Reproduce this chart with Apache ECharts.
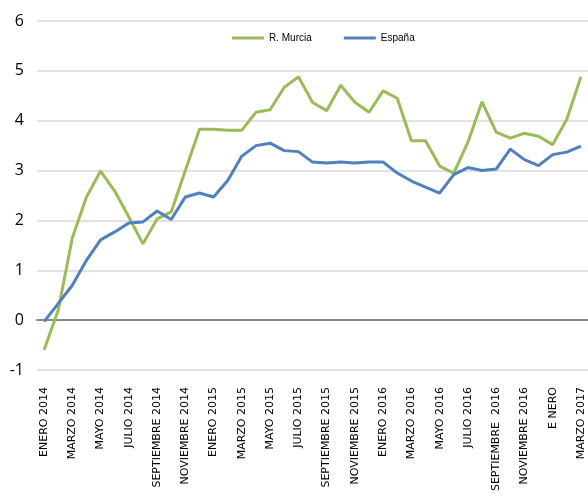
<!DOCTYPE html>
<html>
<head>
<meta charset="utf-8">
<script src="https://cdn.jsdelivr.net/npm/echarts@6/dist/echarts.min.js"></script>
<style>
  html, body { margin: 0; padding: 0; background: #fff; }
  #chart { width: 588px; height: 496px; }
</style>
</head>
<body>
<div id="chart"></div>
<script>
  // meses: etiquetas de categoria (solo se ven una de cada dos)
  var months = [
    'ENERO 2014', 'FEBRERO 2014', 'MARZO 2014', 'ABRIL 2014', 'MAYO 2014', 'JUNIO 2014',
    'JULIO 2014', 'AGOSTO 2014', 'SEPTIEMBRE 2014', 'OCTUBRE 2014', 'NOVIEMBRE 2014', 'DICIEMBRE 2014',
    'ENERO 2015', 'FEBRERO 2015', 'MARZO 2015', 'ABRIL 2015', 'MAYO 2015', 'JUNIO 2015',
    'JULIO 2015', 'AGOSTO 2015', 'SEPTIEMBRE 2015', 'OCTUBRE 2015', 'NOVIEMBRE 2015', 'DICIEMBRE 2015',
    'ENERO 2016', 'FEBRERO 2016', 'MARZO 2016', 'ABRIL 2016', 'MAYO 2016', 'JUNIO 2016',
    'JULIO 2016', 'AGOSTO 2016', 'SEPTIEMBRE  2016', 'OCTUBRE 2016', 'NOVIEMBRE 2016', 'DICIEMBRE 2016',
    'E NERO', 'FEBRERO 2017', 'MARZO 2017'
  ];

  var murcia = [
    -0.6, 0.2, 1.65, 2.47, 2.99, 2.59, 2.07, 1.53, 2.03, 2.17,
    3.0, 3.83, 3.83, 3.81, 3.81, 4.17, 4.22, 4.67, 4.88, 4.37,
    4.2, 4.71, 4.37, 4.17, 4.6, 4.45, 3.6, 3.6, 3.09, 2.95,
    3.57, 4.38, 3.77, 3.65, 3.75, 3.69, 3.52, 4.03, 4.88
  ];

  var espana = [
    -0.03, 0.33, 0.7, 1.2, 1.61, 1.77, 1.95, 1.97, 2.19, 2.02,
    2.47, 2.55, 2.47, 2.8, 3.29, 3.5, 3.55, 3.4, 3.38, 3.17,
    3.15, 3.17, 3.15, 3.17, 3.17, 2.95, 2.79, 2.67, 2.55, 2.92,
    3.06, 3.0, 3.03, 3.43, 3.22, 3.1, 3.32, 3.37, 3.49
  ];

  var chart = echarts.init(document.getElementById('chart'));
  chart.setOption({
    animation: false,
    backgroundColor: '#fff',
    grid: { left: 37, right: -4, top: 21, bottom: 126 },
    legend: {
      top: 28,
      left: 227,
      icon: 'rect',
      itemWidth: 32,
      itemHeight: 3,
      itemGap: 32,
      textStyle: { fontFamily: 'Liberation Sans', fontSize: 10, color: '#000' },
      data: ['R. Murcia', 'España']
    },
    xAxis: [
      {
        type: 'category',
        data: months,
        boundaryGap: true,
        axisLine: { show: false, onZero: false },
        axisTick: { show: false },
        axisLabel: {
          interval: 1,
          rotate: 90,
          margin: 17,
          fontFamily: 'DejaVu Sans',
          fontSize: 11,
          color: '#000'
        }
      },
      {
        type: 'category',
        data: months,
        position: 'bottom',
        boundaryGap: true,
        axisLine: { onZero: true, lineStyle: { color: '#888', width: 2 } },
        axisTick: { interval: 2, length: 5, lineStyle: { color: '#888', width: 1 } },
        axisLabel: { show: false }
      }
    ],
    yAxis: {
      type: 'value',
      min: -1,
      max: 6,
      interval: 1,
      axisLine: { show: false },
      axisTick: { show: false },
      axisLabel: { margin: 13, fontFamily: 'Open Sans', fontSize: 16, color: '#000' },
      splitLine: { lineStyle: { color: '#d9d9d9', width: 1.5 } }
    },
    series: [
      {
        name: 'R. Murcia',
        type: 'line',
        data: murcia,
        symbol: 'none',
        color: '#9BBB59',
        lineStyle: { width: 3 }
      },
      {
        name: 'España',
        type: 'line',
        data: espana,
        symbol: 'none',
        color: '#4F81BD',
        lineStyle: { width: 3 }
      }
    ]
  });
</script>
</body>
</html>
